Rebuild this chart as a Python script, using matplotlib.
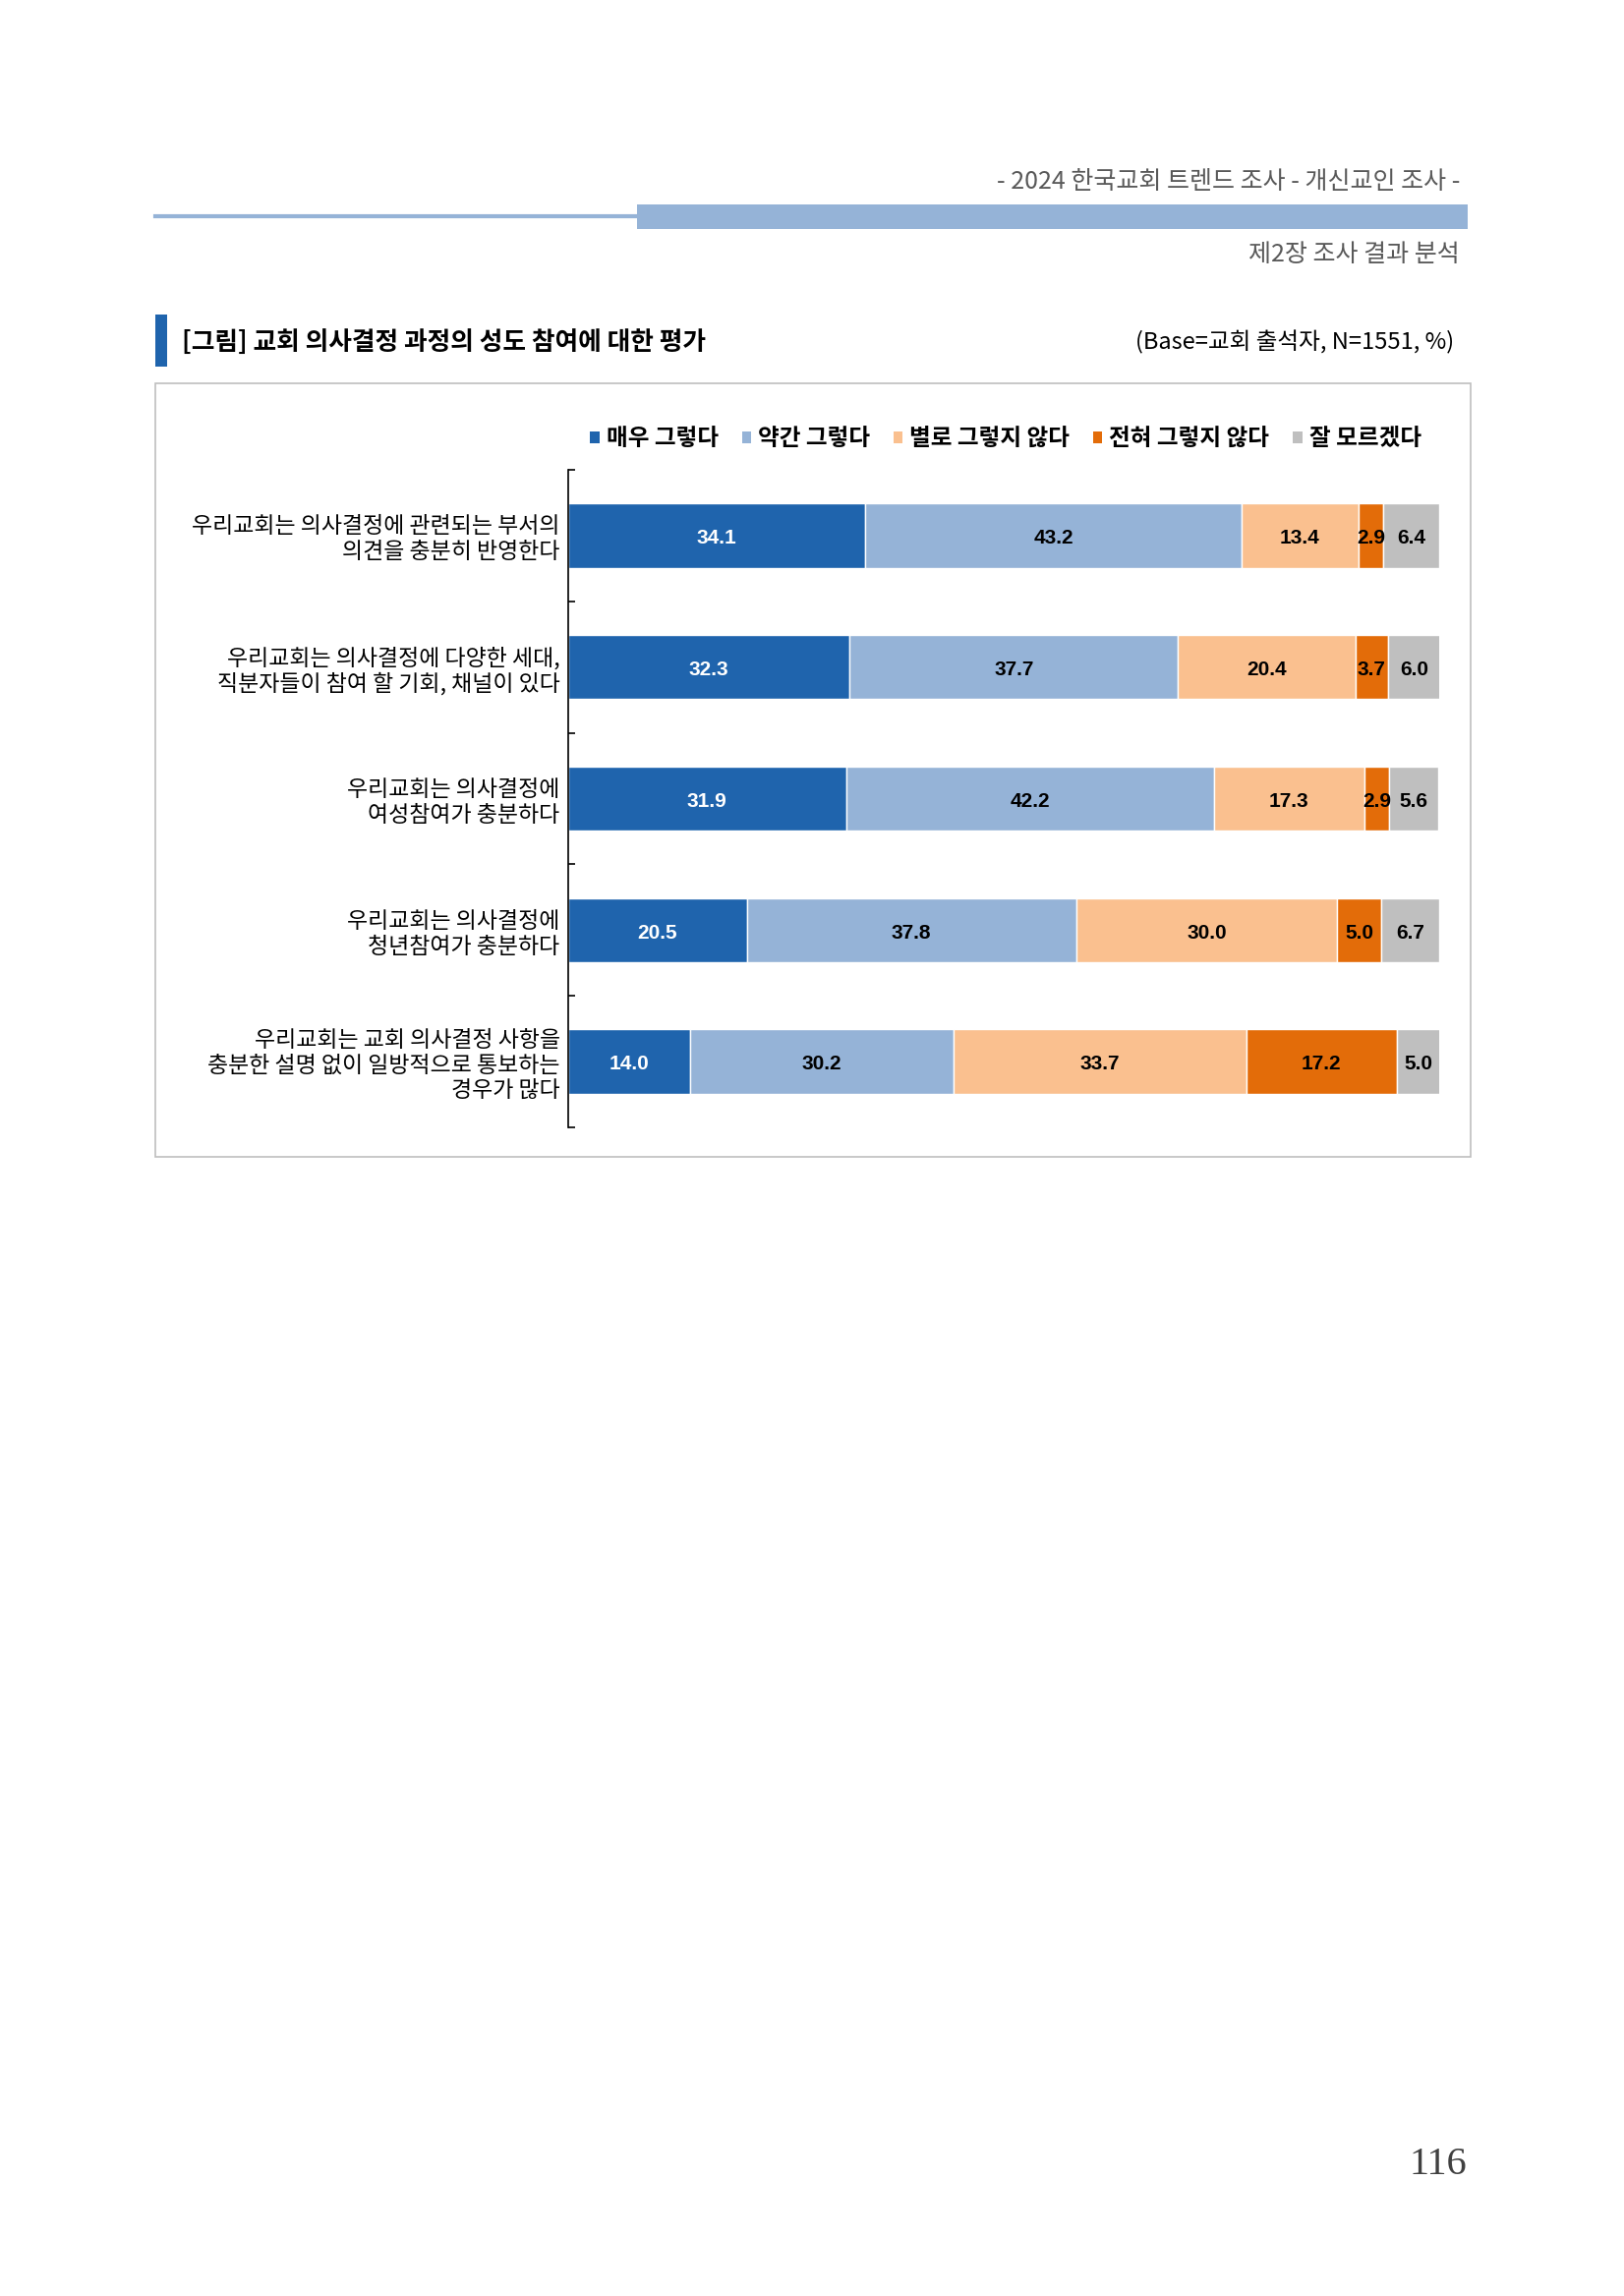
import matplotlib.pyplot as plt
import matplotlib as mpl
from matplotlib.patches import Patch, Rectangle
from matplotlib.lines import Line2D
import numpy as np


mpl.rcParams['font.family'] = ['Noto Sans CJK KR', 'DejaVu Sans']

# 데이터 (%)
categories = [
    '우리교회는 의사결정에 관련되는 부서의\n의견을 충분히 반영한다',
    '우리교회는 의사결정에 다양한 세대,\n직분자들이 참여 할 기회, 채널이 있다',
    '우리교회는 의사결정에\n여성참여가 충분하다',
    '우리교회는 의사결정에\n청년참여가 충분하다',
    '우리교회는 교회 의사결정 사항을\n충분한 설명 없이 일방적으로 통보하는\n경우가 많다',
]
responses = ['매우 그렇다', '약간 그렇다', '별로 그렇지 않다', '전혀 그렇지 않다', '잘 모르겠다']
very_yes = [34.1, 32.3, 31.9, 20.5, 14.0]
some_yes = [43.2, 37.7, 42.2, 37.8, 30.2]
not_much = [13.4, 20.4, 17.3, 30.0, 33.7]
not_at_all = [2.9, 3.7, 2.9, 5.0, 17.2]
dont_know = [6.4, 6.0, 5.6, 6.7, 5.0]

series = [very_yes, some_yes, not_much, not_at_all, dont_know]
colors = ['#1F64AD', '#95B3D7', '#FAC08F', '#E36C09', '#BFBFBF']
label_colors = ['white', 'black', 'black', 'black', 'black']

W, H = 1652, 2336
fig = plt.figure(figsize=(W / 100, H / 100), dpi=100)


def fx(x):
    return x / W


def fy(y):
    return 1 - y / H


# 머리말 (페이지 장식)
fig.text(fx(1485), fy(185), '- 2024 한국교회 트렌드 조사 - 개신교인 조사 -', ha='right', va='center',
         fontsize=18, color='#595959', style='italic')
fig.add_artist(Line2D([fx(158), fx(650)], [fy(220), fy(220)], color='#95B3D7', lw=3))
fig.add_artist(Rectangle((fx(648), fy(233)), fx(1493) - fx(648), (233 - 208) / H,
                         color='#95B3D7', lw=0, transform=fig.transFigure))
fig.text(fx(1485), fy(259), '제2장 조사 결과 분석', ha='right', va='center',
         fontsize=18, color='#595959', style='italic')

# 그림 제목
fig.add_artist(Rectangle((fx(158), fy(373)), fx(170) - fx(158), (373 - 320) / H,
                         color='#1F64AD', lw=0, transform=fig.transFigure))
fig.text(fx(185), fy(348), '[그림] 교회 의사결정 과정의 성도 참여에 대한 평가', ha='left', va='center',
         fontsize=18.5, fontweight='bold', color='black')
fig.text(fx(1479), fy(348), '(Base=교회 출석자, N=1551, %)', ha='right', va='center',
         fontsize=17, color='black')

# 차트 테두리
fig.add_artist(Rectangle((fx(158), fy(1177)), fx(1496) - fx(158), (1177 - 390) / H,
                         fill=False, edgecolor='#BFBFBF', lw=1.2, transform=fig.transFigure))

# 누적 가로 막대
ax = fig.add_axes([fx(578), fy(1147), fx(1464) - fx(578), (1147 - 478) / H])
y = np.arange(len(categories))
left = np.zeros(len(categories))
for vals, col, tcol, name in zip(series, colors, label_colors, responses):
    vals = np.array(vals)
    ax.barh(y, vals, left=left, height=0.49, color=col, edgecolor='white', linewidth=1, label=name)
    for yi, (l, v) in enumerate(zip(left, vals)):
        ax.annotate(f'{v:.1f}', (l + v / 2, yi), xytext=(0, -2), textcoords='offset points',
                    ha='center', va='center', color=tcol,
                    fontsize=15, fontweight='bold', family='Liberation Sans')
    left += vals

ax.set_xlim(0, 100)
ax.set_ylim(len(categories) - 0.5, -0.5)
for s in ['top', 'right', 'bottom']:
    ax.spines[s].set_visible(False)
ax.spines['left'].set_linewidth(1.2)
ax.set_xticks([])
ax.set_yticks(np.arange(-0.5, len(categories), 1.0))
ax.set_yticklabels([])
ax.tick_params(axis='y', which='major', direction='in', length=5, width=1.2)
ax.set_yticks(y, minor=True)
ax.set_yticklabels(categories, minor=True, fontsize=16.5, linespacing=1.15)
ax.tick_params(axis='y', which='minor', length=0, pad=6)

# 범례
handles = [Patch(facecolor=c, edgecolor='none') for c in colors]
fig.legend(handles, responses, loc='center', bbox_to_anchor=(fx(1023), fy(446)), ncol=5,
           frameon=False, handlelength=0.4, handleheight=0.4, handletextpad=0.3,
           columnspacing=1.0, prop={'size': 17, 'weight': 'bold'})

# 쪽 번호
fig.text(fx(1463), fy(2202), '116', ha='center', va='center', fontsize=29,
         family='Liberation Serif', color='#404040')

fig.savefig('out.png', dpi=100)
